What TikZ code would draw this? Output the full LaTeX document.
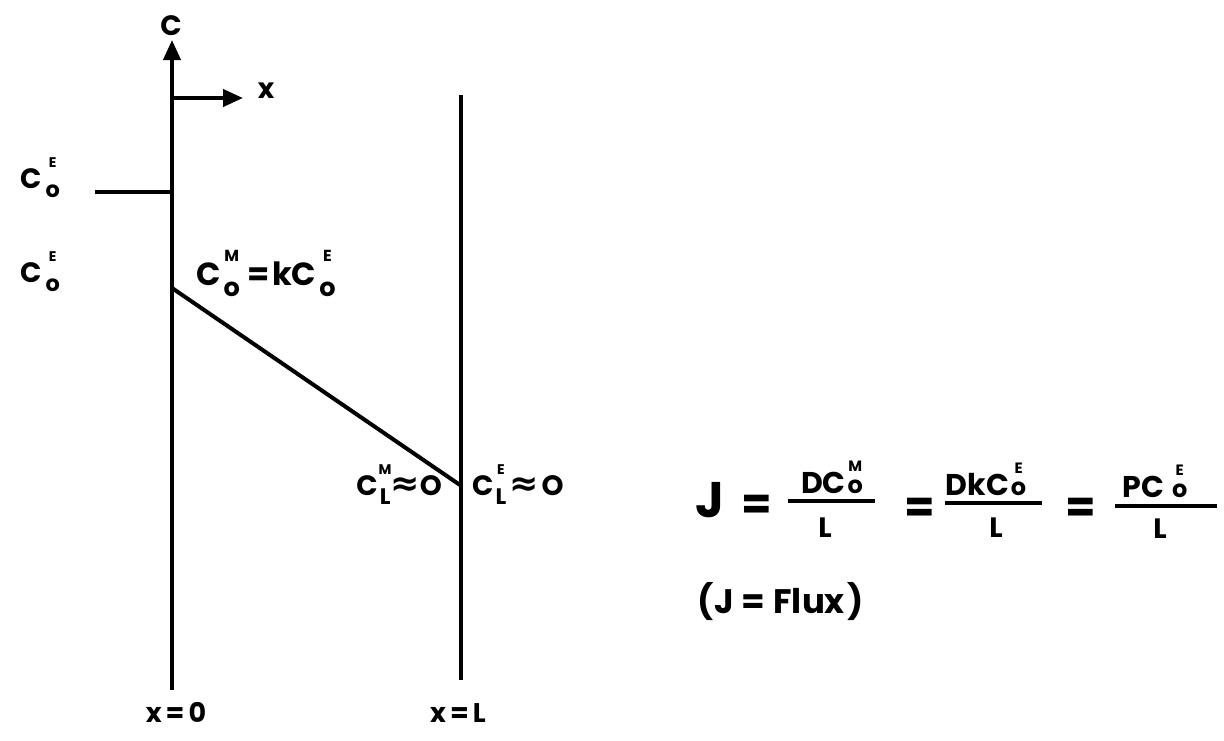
\documentclass[tikz,border=0pt]{standalone}
\usepackage{fontspec}
\usepackage{graphicx}
\setmainfont{Poppins}
\newfontfamily\symf{DejaVu Sans}
\usetikzlibrary{arrows.meta}
\newsavebox\sbbox
\newcommand\sbg[3]{\sbox\sbbox{\scalebox{0.8}{#1}}\rlap{\makebox[\wd\sbbox][c]{\raisebox{0.72em}{\scalebox{0.5}{#2}}}}\raisebox{#3}{\usebox\sbbox}}
\newcommand\sbp[2]{\sbg{#1}{#2}{-0.35em}}
\newcommand\sbq[2]{\sbg{#1}{#2}{0em}}
\newcommand\apx{{\symf\bfseries\scalebox{1.25}{\char"2248}}}
\begin{document}
\begin{tikzpicture}[x=1pt,y=-1pt,
  ln/.style={line width=4pt},
  ax/.style={line width=4pt,-{Triangle[length=20pt,width=17pt]}},
  lab/.style={inner sep=0pt,anchor=base,font=\bfseries\fontsize{28}{30}\selectfont},
  eq/.style={inner sep=0pt,font=\bfseries\fontsize{44}{48}\selectfont}]
\useasboundingbox (0,0) rectangle (1224,740);
% axes and lines
\coordinate (a0) at (172,690);
\coordinate (a1) at (172,40);
\coordinate (xa) at (172,98);
\coordinate (xb) at (243,98);
\coordinate (t0) at (95,192);
\coordinate (t1) at (172,192);
\coordinate (s0) at (172,288);
\coordinate (s1) at (460,485);
\coordinate (r0) at (461,95);
\coordinate (r1) at (461,680);
\draw[ax] (a0) -- (a1);
\draw[ax] (xa) -- (xb);
\draw[ln] (t0) -- (t1);
\draw[ln] (s0) -- (s1);
\draw[ln] (r0) -- (r1);
% labels
\node[lab] (cl) at (171,35) {C};
\node[lab,font=\bfseries\fontsize{28}{32}\selectfont] (xl) at (266,98) {x};
\node[lab,anchor=base west] (ce1) at (20,188) {C\kern4pt\sbp{o}{E}};
\node[lab,anchor=base west] (ce2) at (20,282) {C\kern4pt\sbp{o}{E}};
\node[lab,anchor=base west,font=\bfseries\fontsize{32}{34}\selectfont] (cm) at (196,285) {C\kern3pt\sbp{o}{M}\kern8pt=\kern2pt kC\kern3pt\sbp{o}{E}};
\node[lab,anchor=base east] (clm) at (442,495) {C\kern2pt\sbp{L}{M}\apx O};
\node[lab,anchor=base west] (cle) at (472,495) {C\kern2pt\sbp{L}{E}\kern3pt\apx\kern3pt O};
\node[lab,font=\bfseries\fontsize{27}{30}\selectfont] (x0) at (176,722) {x\kern4pt=\kern4pt0};
\node[lab,font=\bfseries\fontsize{27}{30}\selectfont] (xL) at (458,722) {x\kern4pt=\kern4pt L};
% equation
\node[eq,font=\bfseries\fontsize{50}{52}\selectfont] (J) at (710,500) {J};
\node[eq] (e1) at (757,507) {=};
\node[lab,font=\bfseries\fontsize{30}{32}\selectfont] (n1) at (832,493) {DC\kern2pt\sbq{o}{M}};
\draw[ln] (788,501) -- (875,501);
\node[lab] (d1) at (825,537) {L};
\node[eq] (e2) at (920,510) {=};
\node[lab,font=\bfseries\fontsize{30}{32}\selectfont] (n2) at (986,495) {DkC\kern2pt\sbq{o}{E}};
\draw[ln] (945,503) -- (1042,503);
\node[lab] (d2) at (996,537) {L};
\node[eq] (e3) at (1081,510) {=};
\node[lab,font=\bfseries\fontsize{30}{32}\selectfont] (n3) at (1155,497) {PC\kern8pt\sbq{o}{E}};
\draw[ln] (1115,506) -- (1217,506);
\node[lab] (d3) at (1160,538) {L};
\node[lab,font=\bfseries\fontsize{34}{40}\selectfont] (flux) at (781,613) {(J\kern8pt=\kern8pt Flux\kern3pt)};
\end{tikzpicture}
\end{document}
